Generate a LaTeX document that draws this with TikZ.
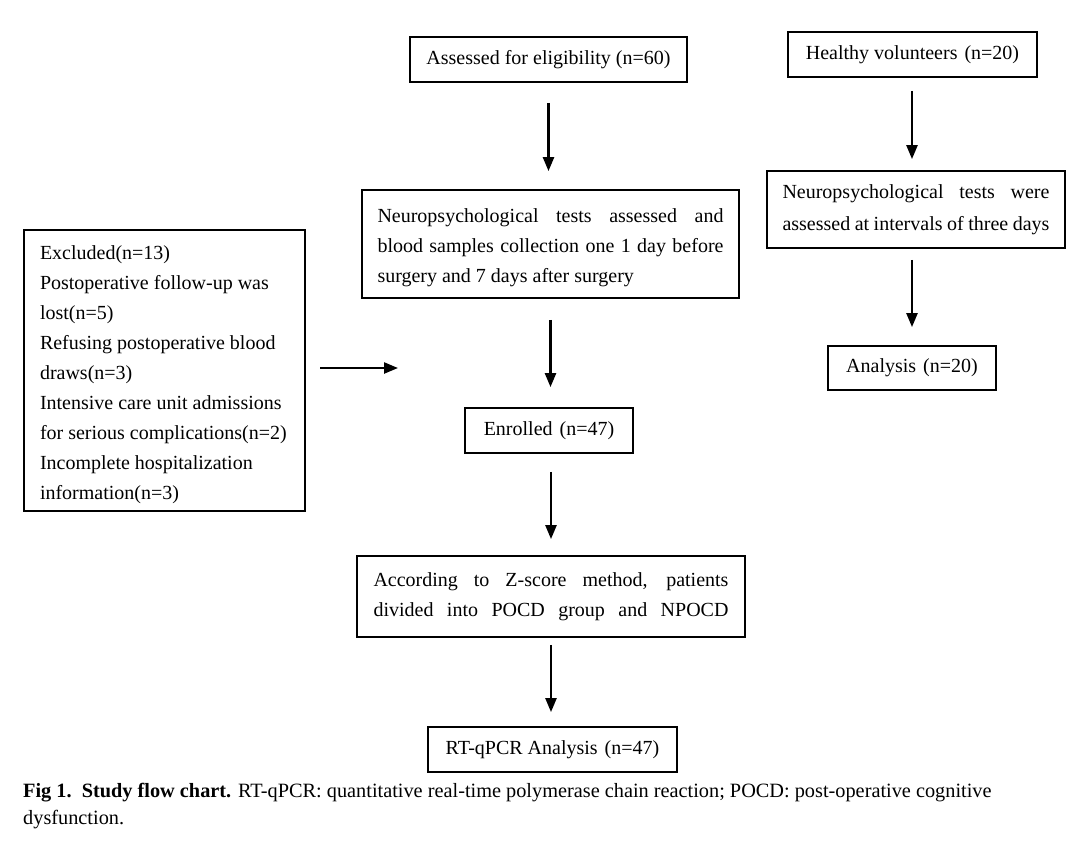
\documentclass[tikz,border=0pt]{standalone}
\usepackage{fontspec}
\setmainfont{Liberation Serif}
\usetikzlibrary{arrows.meta}
\begin{document}
\begin{tikzpicture}[x=1pt,y=-1pt,
  box/.style={draw, line width=1.8pt, font=\fontsize{20}{30}\selectfont, inner sep=0pt, align=left},
  arr/.style={line width=2.4pt, -{Triangle[length=14pt,width=11pt]}},
  capt/.style={font=\fontsize{20.3}{27}\selectfont, inner sep=0pt, align=left}]
\fill[white] (0,0) rectangle (1080,841);
\useasboundingbox (0,0) rectangle (1080,841);

\node[box, minimum width=277, minimum height=45] (assess) at (548.5,59.5) {Assessed for eligibility\hspace{0.25em}(n=60)};
\node[box, minimum width=249, minimum height=45] (healthy) at (912.5,54.5) {Healthy volunteers\hspace{0.35em}(n=20)};

\node[box, minimum width=377, minimum height=108, inner ysep=0pt] (neuro) at (550.5,244)
  {\rule{0pt}{22pt}\makebox[346pt][s]{Neuropsychological tests assessed and}\\
   \makebox[346pt][s]{blood samples collection one 1 day before}\\
   \makebox[346pt][l]{surgery and 7 days after surgery}};

\node[box, minimum width=298, minimum height=77, font=\fontsize{20}{32}\selectfont] (rneuro) at (916,209.5)
  {\makebox[267pt][s]{Neuropsychological tests were}\\
   \makebox[267pt][s]{assessed at intervals of three days}};

\node[box, minimum width=168, minimum height=45] (enrolled) at (549,430.5) {Enrolled\hspace{0.35em}(n=47)};
\node[box, minimum width=168, minimum height=44] (analysis) at (912,368) {Analysis\hspace{0.35em}(n=20)};

\node[box, minimum width=281, minimum height=281, inner xsep=16pt] (excl) at (164.5,370.5)
  {\rule{0pt}{22pt}\makebox[249pt][l]{Excluded(n=13)}\\
   \makebox[249pt][l]{Postoperative follow-up was}\\
   \makebox[249pt][l]{lost(n=5)}\\
   \makebox[249pt][l]{Refusing postoperative blood}\\
   \makebox[249pt][l]{draws(n=3)}\\
   \makebox[249pt][l]{Intensive care unit admissions}\\
   \makebox[249pt][l]{for serious complications(n=2)}\\
   \makebox[249pt][l]{Incomplete hospitalization}\\
   \makebox[249pt][l]{information(n=3)}};

\node[box, minimum width=388, minimum height=81] (z) at (551,596.5)
  {\makebox[355pt][s]{According to Z-score method, patients}\\
   \makebox[355pt][s]{divided into POCD group and NPOCD}};

\node[box, minimum width=249, minimum height=45] (rt) at (552.5,749.5) {RT-qPCR Analysis\hspace{0.35em}(n=47)};

\coordinate (la) at (320,368);
\coordinate (lb) at (398,368);
\draw[arr] (la) -- (lb);

\draw[arr] ([yshift=-20pt]assess.south) -- ([yshift=18pt]assess.south |- neuro.north);
\draw[arr] ([yshift=-21pt]neuro.south) -- ([yshift=20pt]neuro.south |- enrolled.north);
\draw[arr] ([yshift=-18pt]z.north |- enrolled.south) -- ([yshift=16pt]z.north);
\draw[arr] ([yshift=-7pt]z.south) -- ([yshift=14pt]z.south |- rt.north);
\draw[arr] ([yshift=-13pt]analysis.north |- healthy.south) -- ([yshift=11pt]analysis.north |- rneuro.north);
\draw[arr] ([yshift=-11pt]analysis.north |- rneuro.south) -- ([yshift=18pt]analysis.north);

\node[capt, anchor=north west] (caption) at (23,783)
  {\textbf{Fig 1.\ \ Study flow chart.} RT-qPCR: quantitative real-time polymerase chain reaction; POCD: post-operative cognitive\\
   dysfunction.};
\end{tikzpicture}
\end{document}
